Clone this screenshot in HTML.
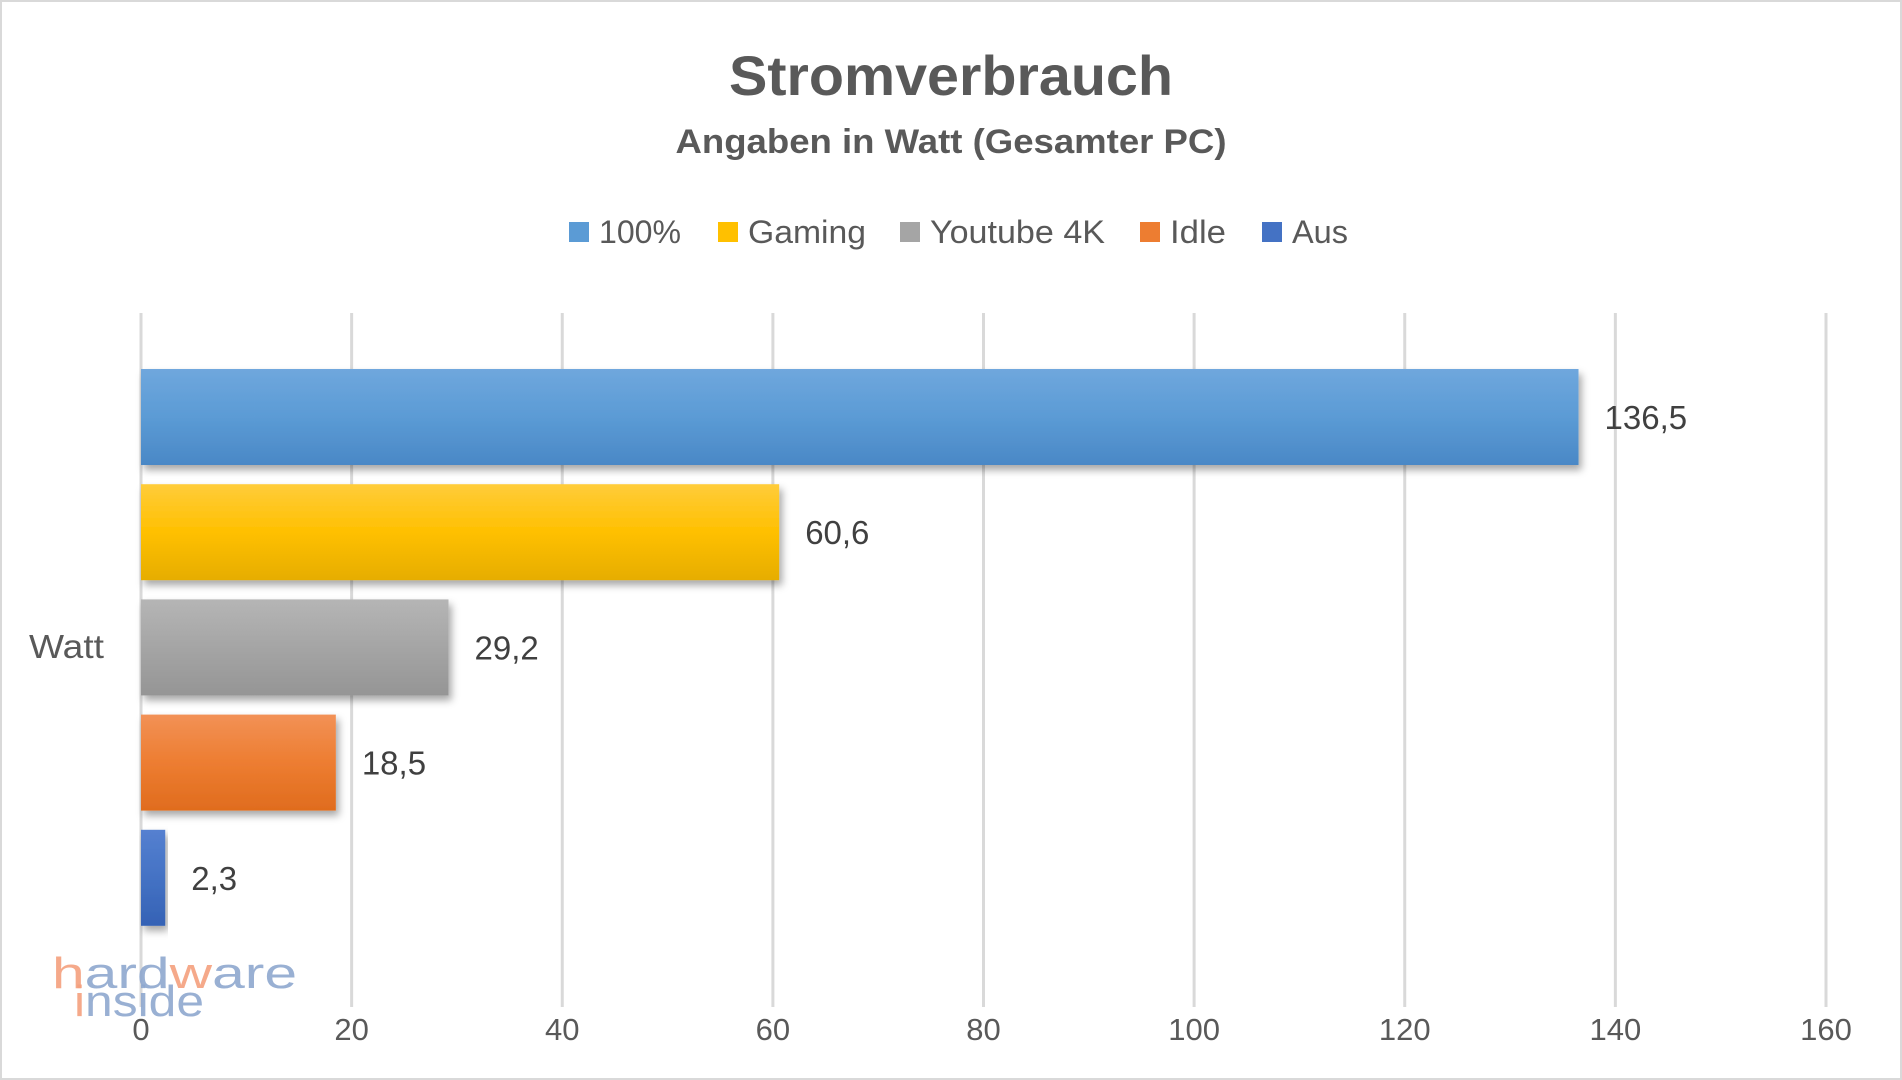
<!DOCTYPE html>
<html><head><meta charset="utf-8"><style>
body{margin:0;width:1902px;height:1080px;overflow:hidden;background:#fff;font-family:"Liberation Sans",sans-serif;color:#595959}
#frame{position:absolute;left:0;top:0;width:1898px;height:1076px;border:2px solid #d9d9d9}
svg{position:absolute;left:0;top:0}
</style></head><body>
<div id="frame"></div>
<svg id="chart" width="1902" height="1080">
<defs>
<linearGradient id="g0" x1="0" y1="0" x2="0" y2="1"><stop offset="0" stop-color="#6fa7dd"/><stop offset="0.5" stop-color="#5b9bd5"/><stop offset="1" stop-color="#4a88c6"/></linearGradient>
<linearGradient id="g1" x1="0" y1="0" x2="0" y2="1"><stop offset="0" stop-color="#ffcc3a"/><stop offset="0.5" stop-color="#ffc000"/><stop offset="1" stop-color="#e6ad00"/></linearGradient>
<linearGradient id="g2" x1="0" y1="0" x2="0" y2="1"><stop offset="0" stop-color="#b5b5b5"/><stop offset="0.5" stop-color="#a5a5a5"/><stop offset="1" stop-color="#959595"/></linearGradient>
<linearGradient id="g3" x1="0" y1="0" x2="0" y2="1"><stop offset="0" stop-color="#f29156"/><stop offset="0.5" stop-color="#ed7d31"/><stop offset="1" stop-color="#e06c1e"/></linearGradient>
<linearGradient id="g4" x1="0" y1="0" x2="0" y2="1"><stop offset="0" stop-color="#5580d0"/><stop offset="0.5" stop-color="#4472c4"/><stop offset="1" stop-color="#3562b5"/></linearGradient>
<filter id="sh" x="-5%" y="-20%" width="115%" height="150%"><feDropShadow dx="3" dy="5" stdDeviation="4" flood-color="#000" flood-opacity="0.35"/></filter>
</defs>
<text x="951" y="95" text-anchor="middle" font-size="56" font-weight="bold" fill="#595959" textLength="444" lengthAdjust="spacingAndGlyphs">Stromverbrauch</text>
<text x="951" y="153" text-anchor="middle" font-size="34" font-weight="bold" fill="#595959" textLength="551" lengthAdjust="spacingAndGlyphs">Angaben in Watt (Gesamter PC)</text>
<g id="grid"></g><g id="bars"></g><g id="legend"></g>
<text x="29" y="658" font-size="33" fill="#595959" textLength="75" lengthAdjust="spacingAndGlyphs">Watt</text>
<g font-size="44">
<text x="52" y="988" fill="#f4a07e" opacity="0.9" textLength="245" lengthAdjust="spacingAndGlyphs">h<tspan fill="#8fa8cf">ar</tspan><tspan fill="#8fa8cf">d</tspan><tspan fill="#f4a07e">w</tspan><tspan fill="#8fa8cf">are</tspan></text>
<text x="74" y="1016" fill="#8fa8cf" opacity="0.9" textLength="130" lengthAdjust="spacingAndGlyphs"><tspan fill="#f4a07e">i</tspan>nside</text>
</g>
</svg>
<script>
const categories=["100%","Gaming","Youtube 4K","Idle","Aus"];
const values=[136.5,60.6,29.2,18.5,2.3];
const labels=["136,5","60,6","29,2","18,5","2,3"];
const ticks=[0,20,40,60,80,100,120,140,160];
const fills=["url(#g0)","url(#g1)","url(#g2)","url(#g3)","url(#g4)"];
const legendColors=["#5b9bd5","#ffc000","#a5a5a5","#ed7d31","#4472c4"];
const legendX=[569,718,900,1140,1262];
const legendW=[82,118,175,56,56];
const NS="http://www.w3.org/2000/svg";
const x0=141,x1=1826,vmax=160;
const xs=v=>x0+(v/vmax)*(x1-x0);
const barTop=369,barStep=115.2,barH=96;
function mk(t,a,p){const e=document.createElementNS(NS,t);for(const k in a)e.setAttribute(k,a[k]);p.appendChild(e);return e;}
const grid=document.getElementById('grid');
ticks.forEach((t,i)=>{
 const l=mk('line',{x1:xs(t),x2:xs(t),y1:313,y2:1007,stroke:'#d9d9d9','stroke-width':3},grid);
 
 
 const tx=mk('text',{x:xs(t),y:1040,'text-anchor':'middle','font-size':31,fill:'#595959'},grid);
 tx.textContent=t;
 
 
});
const bars=document.getElementById('bars');
values.forEach((v,i)=>{
 const y=barTop+i*barStep;
 const r=mk('rect',{x:x0,y:y,width:xs(v)-x0,height:barH,fill:fills[i],filter:'url(#sh)'},bars);
 
 
 const t=mk('text',{x:xs(v)+26,y:y+barH/2+12,'font-size':33,fill:'#404040'},bars);
 t.textContent=labels[i];
 
 
});
const lg=document.getElementById('legend');
categories.forEach((c,i)=>{
 const g=mk('g',{},lg);
 
 
 mk('rect',{x:legendX[i],y:222,width:20,height:20,fill:legendColors[i]},g);
 const t=mk('text',{x:legendX[i]+30,y:243,'font-size':32,fill:'#595959',textLength:legendW[i],lengthAdjust:'spacingAndGlyphs'},g);
 t.textContent=c;
});
</script>
</body></html>
